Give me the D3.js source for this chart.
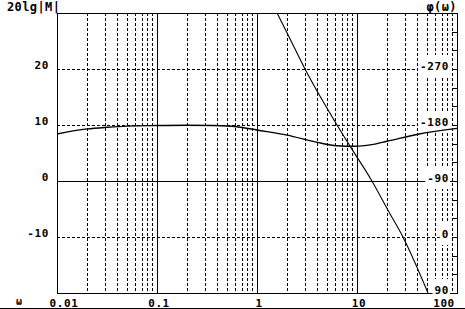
<!DOCTYPE html>
<html lang="en">
<head>
    <meta charset="UTF-8">
    <title>Bode plot</title>
    <script src="https://d3js.org/d3.v7.min.js"></script>
    <style>
        body { margin: 0; background: #fff; }
        svg { display: block; }
        text {
            font-family: "DejaVu Sans Mono", monospace;
            font-weight: bold;
            font-size: 11px;
            letter-spacing: 0.6px;
            fill: #000;
        }
        .title { font-size: 12px; letter-spacing: 0.4px; }
        .grid { stroke: #000; stroke-width: 1; shape-rendering: crispEdges; }
        .dash { stroke-dasharray: 3,2; }
    </style>
</head>
<body>
    <svg id="chart" width="465" height="309"></svg>

    <script>
        // frequency axis labels (decades)
        const decades = [0.01, 0.1, 1, 10, 100];
        const decadeLabels = ["0.01", "0.1", "1", "10", "100"];

        // left axis: 20lg|M| in dB
        const magTicks = [20, 10, 0, -10];
        // right axis: phase in degrees
        const phaseTicks = [-270, -180, -90, 0, 90];

        // magnitude curve
        const magOmega = [0.01, 0.02, 0.032, 0.05, 0.1, 0.2, 0.36, 0.68, 1, 2, 4, 6.3, 9.5, 14, 20, 42, 100];
        const magDb    = [8.4, 9.3, 9.6, 9.8, 9.9, 9.95, 9.9, 9.6, 9.1, 8.2, 6.9, 6.3, 6.2, 6.5, 7.1, 8.4, 9.4];

        // phase curve
        const phaseOmega = [1.585, 2.0, 3.02, 6.31, 8.51, 14.1, 20.4, 28.8, 51.3];
        const phaseDeg   = [-360, -328, -270, -180, -146, -90, -43, 0, 90];

        const svg = d3.select("#chart");
        const pLeft = 57, pRight = 457, pTop = 13, pBottom = 293;

        const x = d3.scaleLog().domain([0.01, 100]).range([pLeft, pRight]);
        const yMag = d3.scaleLinear().domain([30, -20]).range([pTop, pBottom]);
        const yPh = d3.scaleLinear().domain([-360, 90]).range([pTop, pBottom]);

        const px = v => Math.round(v) + 0.5;

        // vertical grid lines
        const minor = [];
        decades.slice(0, -1).forEach(d => {
            for (let k = 2; k <= 9; k++) minor.push(d * k);
        });
        svg.selectAll(".vminor").data(minor).enter().append("line")
            .attr("class", "grid dash")
            .attr("x1", d => px(x(d))).attr("x2", d => px(x(d)))
            .attr("y1", pTop).attr("y2", pBottom);

        svg.selectAll(".vmajor").data(decades.slice(1, -1)).enter().append("line")
            .attr("class", "grid")
            .attr("x1", d => px(x(d))).attr("x2", d => px(x(d)))
            .attr("y1", pTop).attr("y2", pBottom);

        // horizontal grid lines
        svg.selectAll(".hgrid").data(magTicks).enter().append("line")
            .attr("class", d => d === 0 ? "grid" : "grid dash")
            .attr("x1", pLeft).attr("x2", pRight)
            .attr("y1", d => px(yMag(d))).attr("y2", d => px(yMag(d)));

        // phase minor ticks on the right edge, every 30 degrees
        svg.selectAll(".ptick").data(d3.range(-360, 91, 30)).enter().append("line")
            .attr("class", "grid")
            .attr("x1", pRight - 5).attr("x2", pRight)
            .attr("y1", d => px(yPh(d))).attr("y2", d => px(yPh(d)));

        // frame
        svg.append("rect")
            .attr("x", pLeft + 0.5).attr("y", pTop + 0.5)
            .attr("width", pRight - pLeft).attr("height", pBottom - pTop)
            .attr("fill", "none").attr("class", "grid");

        svg.append("line").attr("class", "grid")
            .attr("x1", 0).attr("x2", 465).attr("y1", 308.5).attr("y2", 308.5);

        // left labels
        svg.selectAll(".mlab").data(magTicks).enter().append("text")
            .attr("x", 49).attr("y", d => yMag(d))
            .attr("text-anchor", "end")
            .text(d => d);

        // right labels with white boxes
        const pl = svg.selectAll(".plab").data(phaseTicks).enter().append("g");
        const ptext = pl.append("text")
            .attr("x", 449).attr("y", d => yPh(d) + 1)
            .attr("text-anchor", "end")
            .text(d => d);
        ptext.each(function () {
            const b = this.getBBox();
            d3.select(this.parentNode).insert("rect", "text")
                .attr("x", b.x - 2).attr("y", b.y - 5)
                .attr("width", 449 - b.x + 3).attr("height", b.height + 9)
                .attr("fill", "#fff");
        });

        // bottom labels
        svg.selectAll(".xlab").data(decades).enter().append("text")
            .attr("x", (d, i) => i === 0 ? x(d) + 7 : i === decades.length - 1 ? x(d) - 13 : x(d) + 2)
            .attr("y", 307)
            .attr("text-anchor", "middle")
            .text((d, i) => decadeLabels[i]);

        svg.append("text").attr("x", 16).attr("y", 305).style("font-size", "10px").text("ω");
        svg.append("text").attr("class", "title").attr("x", 7).attr("y", 11).text("20lg|M|");
        svg.append("text").attr("class", "title").attr("x", 457).attr("y", 11).attr("text-anchor", "end").text("φ(ω)");

        svg.append("clipPath").attr("id", "clip").append("rect")
            .attr("x", pLeft).attr("y", pTop).attr("width", pRight - pLeft).attr("height", pBottom - pTop);

        // magnitude curve
        const magLine = d3.line()
            .x((d, i) => x(magOmega[i]))
            .y(d => yMag(d))
            .curve(d3.curveMonotoneX);
        svg.append("path")
            .attr("d", magLine(magDb))
            .attr("fill", "none").attr("stroke", "#000").attr("stroke-width", 1.4)
            .attr("clip-path", "url(#clip)");

        // phase curve
        const phLine = d3.line()
            .x((d, i) => x(phaseOmega[i]))
            .y(d => yPh(d))
            .curve(d3.curveMonotoneX);
        svg.append("path")
            .attr("d", phLine(phaseDeg))
            .attr("fill", "none").attr("stroke", "#000").attr("stroke-width", 1.1)
            .attr("clip-path", "url(#clip)");
    </script>
</body>
</html>
